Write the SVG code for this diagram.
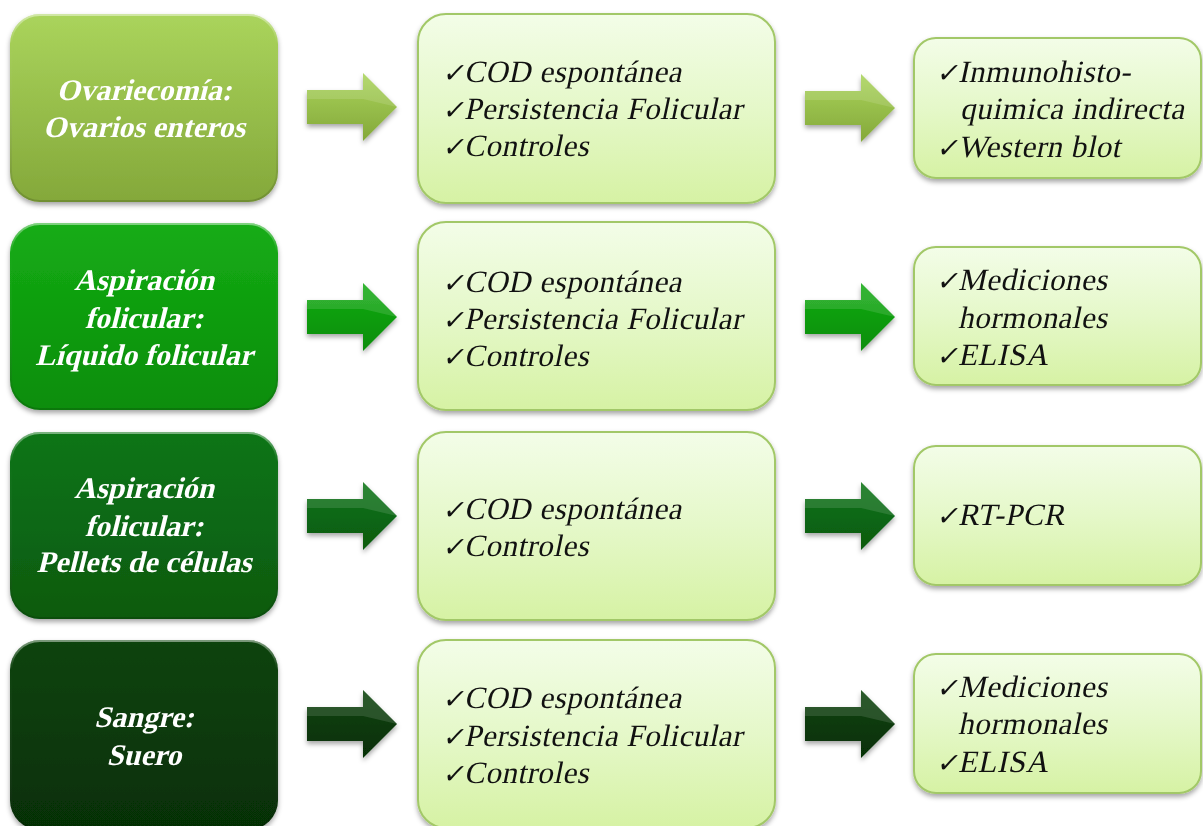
<svg xmlns="http://www.w3.org/2000/svg" width="1203" height="826" viewBox="0 0 1203 826">
<style>
.lt{font-family:"Liberation Serif","Times New Roman",serif;font-weight:bold;font-size:30px;fill:#ffffff;text-anchor:middle}
.bt{font-family:"Liberation Serif","Times New Roman",serif;font-size:31px;letter-spacing:0.5px;fill:#111111}
.ck{font-family:"DejaVu Sans",sans-serif;font-size:27px;letter-spacing:0}
.lb{filter:url(#sh)}
.box{fill:url(#gBox);stroke:#a2c867;stroke-width:2;filter:url(#sh)}
.hl{fill:none;stroke:url(#gHl);stroke-width:2}
</style>
<defs>
<filter id="sh" x="-10%" y="-10%" width="120%" height="130%">
<feDropShadow dx="0" dy="3" stdDeviation="2.5" flood-color="#000" flood-opacity="0.35"/>
</filter>
<linearGradient id="gBox" x1="0" y1="0" x2="0" y2="1">
<stop offset="0" stop-color="#f3fde8"/>
<stop offset="0.5" stop-color="#e5f8c9"/>
<stop offset="1" stop-color="#d6f2a4"/>
</linearGradient>
<linearGradient id="gHl" x1="0" y1="0" x2="0" y2="1">
<stop offset="0" stop-color="#ffffff" stop-opacity="0.45"/>
<stop offset="0.15" stop-color="#ffffff" stop-opacity="0"/>
<stop offset="1" stop-color="#000000" stop-opacity="0.15"/>
</linearGradient>
<linearGradient id="g1" x1="0" y1="0" x2="0" y2="1">
<stop offset="0" stop-color="#aad45c"/><stop offset="1" stop-color="#84a83a"/>
</linearGradient>
<linearGradient id="g2" x1="0" y1="0" x2="0" y2="1">
<stop offset="0" stop-color="#15ac15"/><stop offset="1" stop-color="#098d09"/>
</linearGradient>
<linearGradient id="g3" x1="0" y1="0" x2="0" y2="1">
<stop offset="0" stop-color="#0e7518"/><stop offset="1" stop-color="#075a0f"/>
</linearGradient>
<linearGradient id="g4" x1="0" y1="0" x2="0" y2="1">
<stop offset="0" stop-color="#0c440c"/><stop offset="1" stop-color="#062f06"/>
</linearGradient>
<path id="arr" d="M0,-17 L56,-17 L56,-34 L90,0 L56,34 L56,17 L0,17 Z"/>
<path id="arrHi" d="M0,-17 L56,-17 L56,-34 L90,0 L56,-8 L0,-8 Z"/>
</defs>
<rect width="1203" height="826" fill="#ffffff"/>

<g id="connectors">
<g fill="url(#g1)" class="lb">
<use href="#arr" transform="translate(307,107)"/>
<use href="#arr" transform="translate(805,108)"/>
</g>
<g fill="url(#g2)" class="lb">
<use href="#arr" transform="translate(307,317)"/>
<use href="#arr" transform="translate(805,317)"/>
</g>
<g fill="url(#g3)" class="lb">
<use href="#arr" transform="translate(307,516)"/>
<use href="#arr" transform="translate(805,516)"/>
</g>
<g fill="url(#g4)" class="lb">
<use href="#arr" transform="translate(307,724)"/>
<use href="#arr" transform="translate(805,724)"/>
</g>
<g fill="#ffffff" fill-opacity="0.12">
<use href="#arrHi" transform="translate(307,107)"/>
<use href="#arrHi" transform="translate(805,108)"/>
<use href="#arrHi" transform="translate(307,317)"/>
<use href="#arrHi" transform="translate(805,317)"/>
<use href="#arrHi" transform="translate(307,516)"/>
<use href="#arrHi" transform="translate(805,516)"/>
<use href="#arrHi" transform="translate(307,724)"/>
<use href="#arrHi" transform="translate(805,724)"/>
</g>
</g>

<g id="src1">
<rect class="lb" x="10" y="14" width="268" height="188" rx="30" fill="url(#g1)"/>
<rect class="hl" x="11" y="15" width="266" height="186" rx="29"/>
<text class="lt" transform="translate(144,100) skewX(-14)">Ovariecomía:</text>
<text class="lt" transform="translate(144,137) skewX(-14)">Ovarios enteros</text>
</g>
<g id="src2">
<rect class="lb" x="10" y="223" width="268" height="187" rx="30" fill="url(#g2)"/>
<rect class="hl" x="11" y="224" width="266" height="185" rx="29"/>
<text class="lt" transform="translate(144,290) skewX(-14)">Aspiración</text>
<text class="lt" transform="translate(144,328) skewX(-14)">folicular:</text>
<text class="lt" transform="translate(144,365) skewX(-14)">Líquido folicular</text>
</g>
<g id="src3">
<rect class="lb" x="10" y="432" width="268" height="187" rx="30" fill="url(#g3)"/>
<rect class="hl" x="11" y="433" width="266" height="185" rx="29"/>
<text class="lt" transform="translate(144,498) skewX(-14)">Aspiración</text>
<text class="lt" transform="translate(144,536) skewX(-14)">folicular:</text>
<text class="lt" transform="translate(144,572) skewX(-14)">Pellets de células</text>
</g>
<g id="src4">
<rect class="lb" x="10" y="640" width="268" height="190" rx="30" fill="url(#g4)"/>
<rect class="hl" x="11" y="641" width="266" height="188" rx="29"/>
<text class="lt" transform="translate(144,727) skewX(-14)">Sangre:</text>
<text class="lt" transform="translate(144,765) skewX(-14)">Suero</text>
</g>

<g id="grp1">
<rect class="box" x="418" y="14" width="357" height="189" rx="28"/>
<text class="bt" transform="translate(442,82) skewX(-12)"><tspan class="ck">✓</tspan><tspan x="22">COD espontánea</tspan></text>
<text class="bt" transform="translate(442,119) skewX(-12)"><tspan class="ck">✓</tspan><tspan x="22">Persistencia Folicular</tspan></text>
<text class="bt" transform="translate(442,156) skewX(-12)"><tspan class="ck">✓</tspan><tspan x="22">Controles</tspan></text>
</g>
<g id="grp2">
<rect class="box" x="418" y="222" width="357" height="188" rx="28"/>
<text class="bt" transform="translate(442,292) skewX(-12)"><tspan class="ck">✓</tspan><tspan x="22">COD espontánea</tspan></text>
<text class="bt" transform="translate(442,329) skewX(-12)"><tspan class="ck">✓</tspan><tspan x="22">Persistencia Folicular</tspan></text>
<text class="bt" transform="translate(442,366) skewX(-12)"><tspan class="ck">✓</tspan><tspan x="22">Controles</tspan></text>
</g>
<g id="grp3">
<rect class="box" x="418" y="432" width="357" height="188" rx="28"/>
<text class="bt" transform="translate(442,519) skewX(-12)"><tspan class="ck">✓</tspan><tspan x="22">COD espontánea</tspan></text>
<text class="bt" transform="translate(442,556) skewX(-12)"><tspan class="ck">✓</tspan><tspan x="22">Controles</tspan></text>
</g>
<g id="grp4">
<rect class="box" x="418" y="640" width="357" height="188" rx="28"/>
<text class="bt" transform="translate(442,708) skewX(-12)"><tspan class="ck">✓</tspan><tspan x="22">COD espontánea</tspan></text>
<text class="bt" transform="translate(442,746) skewX(-12)"><tspan class="ck">✓</tspan><tspan x="22">Persistencia Folicular</tspan></text>
<text class="bt" transform="translate(442,783) skewX(-12)"><tspan class="ck">✓</tspan><tspan x="22">Controles</tspan></text>
</g>

<g id="res1">
<rect class="box" x="914" y="38" width="287" height="140" rx="22"/>
<text class="bt" transform="translate(936,82) skewX(-12)"><tspan class="ck">✓</tspan><tspan x="22">Inmunohisto-</tspan></text>
<text class="bt" transform="translate(960,119) skewX(-12)">quimica indirecta</text>
<text class="bt" transform="translate(936,157) skewX(-12)"><tspan class="ck">✓</tspan><tspan x="22">Western blot</tspan></text>
</g>
<g id="res2">
<rect class="box" x="914" y="247" width="287" height="138" rx="22"/>
<text class="bt" transform="translate(936,290) skewX(-12)"><tspan class="ck">✓</tspan><tspan x="22">Mediciones</tspan></text>
<text class="bt" transform="translate(958,328) skewX(-12)">hormonales</text>
<text class="bt" transform="translate(936,365) skewX(-12)"><tspan class="ck">✓</tspan><tspan x="22">ELISA</tspan></text>
</g>
<g id="res3">
<rect class="box" x="914" y="446" width="287" height="139" rx="22"/>
<text class="bt" transform="translate(936,525) skewX(-12)"><tspan class="ck">✓</tspan><tspan x="22">RT-PCR</tspan></text>
</g>
<g id="res4">
<rect class="box" x="914" y="654" width="287" height="139" rx="22"/>
<text class="bt" transform="translate(936,697) skewX(-12)"><tspan class="ck">✓</tspan><tspan x="22">Mediciones</tspan></text>
<text class="bt" transform="translate(958,734) skewX(-12)">hormonales</text>
<text class="bt" transform="translate(936,772) skewX(-12)"><tspan class="ck">✓</tspan><tspan x="22">ELISA</tspan></text>
</g>
</svg>
